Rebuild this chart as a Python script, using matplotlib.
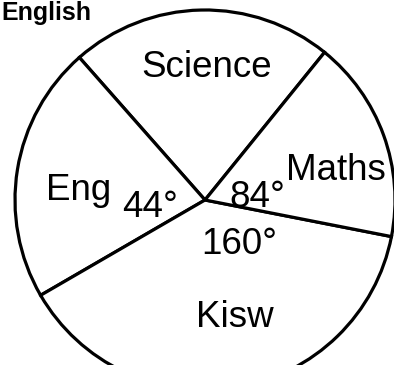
import matplotlib
matplotlib.use('Agg')
import matplotlib.pyplot as plt

# subjects, going counter-clockwise from the upper-right spoke
subjects = ['Science', 'Eng', 'Kisw', 'Maths']
# sector spans as drawn on the sheet (degrees)
spans = [80.4, 78.7, 138.8, 62.1]
# angle labels written inside the chart
angle_labels = ['44°', '84°', '160°']
title = 'English'

plt.rcParams['font.family'] = ['Liberation Sans', 'DejaVu Sans']

fig = plt.figure(figsize=(3.94, 3.65), dpi=100)
ax = fig.add_axes([0, 0, 1, 1])

ax.pie(spans, startangle=51.0, counterclock=True, radius=190,
       center=(205, 165), frame=True,
       wedgeprops=dict(facecolor='white', edgecolor='black', linewidth=2.3))

ax.set_xlim(0, 394)
ax.set_ylim(0, 365)
ax.set_aspect('auto')
ax.axis('off')

H = 365
fs = 26.5
# subject names
ax.text(141, H - 77, subjects[0], fontsize=fs, ha='left', va='baseline')
ax.text(46, H - 200, subjects[1], fontsize=fs, ha='left', va='baseline')
ax.text(196, H - 327, subjects[2], fontsize=fs, ha='left', va='baseline')
ax.text(286, H - 180, subjects[3], fontsize=fs, ha='left', va='baseline')
# angles
ax.text(122, H - 217, angle_labels[0], fontsize=fs, ha='left', va='baseline')
ax.text(229, H - 207, angle_labels[1], fontsize=fs, ha='left', va='baseline')
ax.text(201, H - 254, angle_labels[2], fontsize=fs, ha='left', va='baseline')
# heading in the top-left corner
ax.text(1, H - 20, title, fontsize=18, fontweight='bold',
        ha='left', va='baseline')

fig.savefig('out.png', dpi=100, facecolor='white')
